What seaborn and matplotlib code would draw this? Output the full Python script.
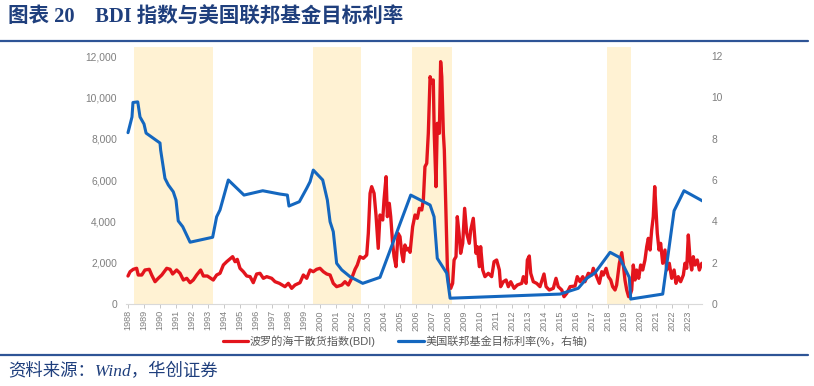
import matplotlib
matplotlib.use("Agg")
import matplotlib.pyplot as plt
import seaborn as sns
import pandas as pd
from matplotlib.lines import Line2D

# ---------------- data ----------------
years = list(range(1988, 2024))

# shaded periods (start, end) in year position
shade_start = [1988.38, 1999.56, 2005.75, 2017.94]
shade_end = [1993.31, 2002.56, 2008.25, 2019.44]

fed_year = [1988.00, 1988.25, 1988.31, 1988.61, 1988.75, 1989.00, 1989.13, 1990.00,
            1990.04, 1990.31, 1990.52, 1990.83, 1991.00, 1991.14, 1991.42, 1991.88,
            1993.29, 1993.54, 1993.75, 1994.27, 1995.25, 1996.42, 1997.50, 1997.96,
            1998.06, 1998.71, 1999.17, 1999.38, 1999.58, 2000.17, 2000.46, 2000.63,
            2000.83, 2001.04, 2001.36, 2001.88, 2002.67, 2003.75, 2005.67, 2006.88,
            2007.13, 2007.33, 2007.92, 2008.13, 2015.00, 2016.14, 2016.67, 2017.19,
            2018.13, 2018.71, 2019.33, 2019.42, 2021.42, 2022.13, 2022.75, 2023.92]
fed_rate = [8.29, 9.05, 9.75, 9.78, 9.05, 8.71, 8.27, 7.79,
            7.45, 6.08, 5.76, 5.43, 5.03, 4.02, 3.74, 2.99,
            3.23, 4.22, 4.55, 6.00, 5.27, 5.48, 5.32, 5.27,
            4.74, 4.95, 5.60, 5.92, 6.48, 6.00, 5.03, 3.98,
            3.50, 1.97, 1.65, 1.32, 1.00, 1.29, 5.27, 4.79,
            4.22, 2.21, 1.49, 0.28, 0.48, 0.76, 1.24, 1.51,
            2.50, 2.26, 1.29, 0.24, 0.48, 4.51, 5.48, 4.98]

bdi_year = [1988.00, 1988.13, 1988.33, 1988.54, 1988.64, 1988.86, 1989.06, 1989.33,
            1989.48, 1989.69, 1989.89, 1990.11, 1990.42, 1990.63, 1990.79, 1991.04,
            1991.25, 1991.46, 1991.67, 1991.88, 1992.08, 1992.29, 1992.54, 1992.71,
            1992.96, 1993.33, 1993.54, 1993.75, 1993.96, 1994.17, 1994.54, 1994.69,
            1994.83, 1995.00, 1995.21, 1995.42, 1995.63, 1995.83, 1996.04, 1996.25,
            1996.46, 1996.67, 1996.98, 1997.19, 1997.46, 1997.81, 1998.02, 1998.23,
            1998.44, 1998.75, 1998.96, 1999.17, 1999.38, 1999.58, 1999.79, 2000.00,
            2000.21, 2000.42, 2000.63, 2000.83, 2001.04, 2001.36, 2001.56, 2001.77,
            2001.98, 2002.19, 2002.33, 2002.50, 2002.71, 2002.92, 2003.02, 2003.13,
            2003.23, 2003.38, 2003.50, 2003.64, 2003.75, 2003.92, 2004.00, 2004.13,
            2004.21, 2004.33, 2004.42, 2004.54, 2004.63, 2004.75, 2004.88, 2005.00,
            2005.11, 2005.21, 2005.31, 2005.42, 2005.52, 2005.63, 2005.79, 2005.94,
            2006.08, 2006.21, 2006.36, 2006.46, 2006.56, 2006.67, 2006.77, 2006.88,
            2006.98, 2007.08, 2007.14, 2007.25, 2007.33, 2007.46, 2007.54, 2007.61,
            2007.71, 2007.77, 2007.88, 2007.96, 2008.04, 2008.17, 2008.29, 2008.38,
            2008.50, 2008.58, 2008.69, 2008.79, 2008.92, 2009.04, 2009.17, 2009.33,
            2009.42, 2009.58, 2009.67, 2009.75, 2009.83, 2009.96, 2010.04, 2010.17,
            2010.31, 2010.52, 2010.73, 2010.88, 2011.04, 2011.21, 2011.29, 2011.46,
            2011.63, 2011.77, 2011.92, 2012.13, 2012.33, 2012.61, 2012.71, 2012.88,
            2012.96, 2013.08, 2013.17, 2013.33, 2013.54, 2013.75, 2014.00, 2014.13,
            2014.33, 2014.58, 2014.75, 2014.89, 2015.11, 2015.25, 2015.42, 2015.63,
            2015.94, 2016.08, 2016.25, 2016.42, 2016.56, 2016.77, 2016.98, 2017.08,
            2017.25, 2017.46, 2017.61, 2017.71, 2017.88, 2018.02, 2018.17, 2018.29,
            2018.44, 2018.54, 2018.71, 2018.86, 2018.96, 2019.06, 2019.17, 2019.29,
            2019.38, 2019.48, 2019.58, 2019.69, 2019.79, 2019.92, 2020.04, 2020.17,
            2020.31, 2020.42, 2020.52, 2020.63, 2020.73, 2020.83, 2020.92, 2021.00,
            2021.08, 2021.19, 2021.29, 2021.42, 2021.56, 2021.67, 2021.83, 2021.98,
            2022.13, 2022.25, 2022.39, 2022.54, 2022.71, 2022.81, 2022.92, 2023.02,
            2023.13, 2023.23, 2023.33, 2023.44, 2023.58, 2023.71, 2023.86]
bdi_value = [1355, 1563, 1679, 1727, 1403, 1403, 1645, 1679,
             1403, 1079, 1243, 1403, 1727, 1679, 1452, 1645,
             1485, 1161, 1243, 1032, 1161, 1403, 1645, 1355,
             1355, 1161, 1403, 1485, 1887, 2048, 2290, 2048,
             2161, 1727, 1563, 1355, 1323, 1032, 1452, 1485,
             1243, 1323, 1243, 1079, 1000, 839, 1000, 758,
             919, 1032, 1403, 1243, 1645, 1563, 1679, 1727,
             1563, 1452, 1403, 1000, 839, 919, 1079, 919,
             1243, 1679, 1887, 2290, 2210, 2371, 3420, 5356,
             5678, 5356, 4307, 2694, 4307, 4065, 5033, 6160,
             4226, 4871, 4226, 2936, 2290, 1807, 3420, 3259,
             2452, 2048, 2855, 2613, 2694, 2500, 3742, 4307,
             4146, 4630, 4549, 5033, 6645, 6806, 8260, 11000,
             10680, 10840, 8260, 5678, 8744, 8260, 11725, 11000,
             8260, 7452, 4226, 1807, 1000, 758, 1000, 2129,
             2290, 4226, 3420, 2452, 2936, 4630, 3420, 2936,
             3581, 4146, 3259, 2452, 2775, 1807, 2775, 1645,
             1323, 1485, 1323, 2048, 2129, 1645, 839, 1079,
             1161, 839, 1079, 758, 919, 1000, 1323, 1000,
             2129, 2323, 1485, 1079, 1000, 839, 1452, 839,
             677, 758, 1243, 839, 677, 353, 516, 839,
             871, 1323, 1079, 1323, 1079, 1485, 1403, 1727,
             1403, 1000, 1563, 1403, 1727, 1323, 1161, 839,
             677, 919, 1969, 2484, 1887, 1161, 677, 353,
             435, 677, 1887, 1161, 1645, 1243, 1887, 1645,
             2129, 2775, 3178, 2613, 3581, 4226, 5678, 4549,
             3420, 2613, 2936, 1969, 2613, 1645, 1969, 1243,
             1645, 1000, 1323, 1079, 1403, 1969, 1727, 3339,
             2129, 1645, 2290, 1887, 2129, 1645, 1969]

left_ticks = [0, 2000, 4000, 6000, 8000, 10000, 12000]
right_ticks = [0, 2, 4, 6, 8, 10, 12]

title_text = "图表 20    BDI 指数与美国联邦基金目标利率"
source_text = "资料来源：Wind，华创证券"
bdi_label = "波罗的海干散货指数(BDI)"
fed_label = "美国联邦基金目标利率(%，右轴)"

# ---------------- styling ----------------
sns.set_theme(style="white")
plt.rcParams['font.family'] = ['Liberation Sans', 'Noto Sans CJK SC', 'DejaVu Sans']

RED = "#E3141C"
BLUE = "#1467BF"
SHADE = "#FFF2D3"
NAVY = "#1F3F7D"
RULE = "#2E5496"
GREY = "#7F7F7F"

W, H = 814, 386
fig = plt.figure(figsize=(W / 100, H / 100), dpi=100)

ax_l, ax_r, ax_t, ax_b = 126, 702, 47, 304
ax = fig.add_axes([ax_l / W, 1 - ax_b / H, (ax_r - ax_l) / W, (ax_b - ax_t) / H])
ax2 = ax.twinx()

ymax_l = 12000 * (ax_b - ax_t) / 248.0
ymax_r = 12 * (ax_b - ax_t) / 248.0

for s, e in zip(shade_start, shade_end):
    ax.axvspan(s, e, color=SHADE, lw=0, zorder=0)

df_bdi = pd.DataFrame({"year": bdi_year, "bdi": bdi_value})
df_fed = pd.DataFrame({"year": fed_year, "rate": fed_rate})

sns.lineplot(data=df_bdi, x="year", y="bdi", ax=ax, color=RED, linewidth=2.4,
             estimator=None, sort=False, legend=False)
sns.lineplot(data=df_fed, x="year", y="rate", ax=ax2, color=BLUE, linewidth=2.2,
             estimator=None, sort=False, legend=False)

ax.set_xlim(1987.875, 2023.875)
ax.set_ylim(0, ymax_l)
ax2.set_ylim(0, ymax_r)
ax.set_xlabel("")
ax.set_ylabel("")
ax2.set_ylabel("")

ax.set_xticks(years)
ax.set_xticklabels([str(y) for y in years], rotation=90, fontsize=6.6, color=GREY)
ax.set_yticks(left_ticks)
ax.set_yticklabels([f"{v:,}" for v in left_ticks], fontsize=7.4, color=GREY)
ax2.set_yticks(right_ticks)
ax2.set_yticklabels([str(v) for v in right_ticks], fontsize=7.4, color=GREY)

ax.tick_params(axis='x', length=3, width=0.6, color="#BFBFBF", pad=1.5, bottom=True)
ax.tick_params(axis='y', length=0, pad=6.5)
ax2.tick_params(axis='y', length=0, pad=7)
ax2.tick_params(axis='x', length=0)

for a in (ax, ax2):
    for sp in a.spines.values():
        sp.set_visible(False)
    a.grid(False)
ax.spines['bottom'].set_visible(True)
ax.spines['bottom'].set_color("#D9D9D9")
ax.spines['bottom'].set_linewidth(0.8)

# ---------------- title, rules, source ----------------
fig.text(8 / W, 1 - 18 / H, title_text, fontsize=14.8, fontweight='bold', color=NAVY,
         family=['Liberation Serif', 'Noto Sans CJK SC'], va='center', ha='left')
fig.add_artist(Line2D([0, 808 / W], [1 - 41 / H, 1 - 41 / H], color=RULE, lw=1.6))
fig.add_artist(Line2D([0, 808 / W], [1 - 355 / H, 1 - 355 / H], color=RULE, lw=1.6))
fig.text(8 / W, 1 - 372 / H, source_text, fontsize=12.5, style='italic', color=NAVY,
         family=['Liberation Serif', 'Noto Sans CJK SC'], va='center', ha='left')

# ---------------- legend ----------------
handles = [Line2D([], [], color=RED, lw=2.3), Line2D([], [], color=BLUE, lw=2.3)]
leg = fig.legend(handles, [bdi_label, fed_label], loc='center', ncol=2,
                 bbox_to_anchor=(405 / W, 1 - 341 / H), frameon=False,
                 fontsize=8, handlelength=2.3, handletextpad=0.15, columnspacing=2.0)
for t in leg.get_texts():
    t.set_color("#595959")

fig.savefig("out.png", dpi=100)
